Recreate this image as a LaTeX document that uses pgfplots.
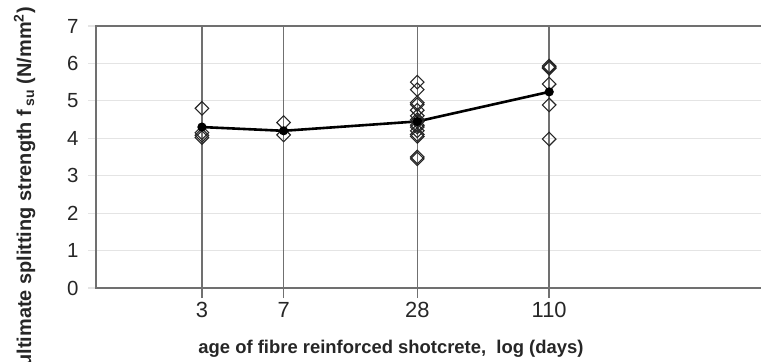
\documentclass[border=0pt]{standalone}
\usepackage{pgfplots}
\pgfplotsset{compat=1.18}
\usepackage{fontspec}
\setmainfont{Liberation Sans}
\definecolor{frame}{HTML}{707070}
\definecolor{gridc}{HTML}{E4E4E4}
\definecolor{txt}{HTML}{262626}
\begin{document}
\begin{tikzpicture}[x=1bp,y=1bp]
\useasboundingbox (0,0) rectangle (761,361);
\clip (0,0) rectangle (761,361);
\begin{axis}[
  at={(96bp,73bp)}, anchor=south west,
  scale only axis, width=666bp, height=262bp,
  xmode=log, xmin=1, xmax=1000,
  ymin=0, ymax=7, ytick={0,1,2,3,4,5,6,7},
  xtick=\empty, xminorticks=false,
  extra x ticks={3,7,28,110},
  extra x tick labels={3,7,28,110},
  extra x tick style={grid=major, major grid style={frame, line width=1.4bp}, tick style={frame, line width=1.4bp}, major tick length=10bp},
  ymajorgrids, major y grid style={gridc, line width=1.2bp},
  tick style={gridc, line width=1.2bp}, major tick length=8bp, tick align=outside,
  tick pos=left,
  axis line style={frame, line width=1.4bp},
  /pgf/number format/assume math mode=true,
  yticklabel style={font=\fontsize{20.5}{22}\selectfont, text=txt, xshift=-6bp},
  xticklabel style={font=\fontsize{22}{24}\selectfont, text=txt, yshift=-1bp},
]
\addplot[only marks, mark=square, mark size=4.8bp, mark options={rotate=45, line width=1.1bp, draw=txt}] coordinates {
 (3,4.8) (3,4.15) (3,4.08) (3,4.02)
 (7,4.42) (7,4.09)
 (28,5.5) (28,5.3) (28,4.95) (28,4.9) (28,4.75) (28,4.6) (28,4.5) (28,4.45) (28,4.35) (28,4.3) (28,4.2) (28,4.1) (28,4.05) (28,3.5) (28,3.45)
 (110,5.93) (110,5.9) (110,5.87) (110,5.45) (110,4.89) (110,3.98)
};
\addplot[black, line width=2.6bp, mark=*, mark size=3.2bp] coordinates {(3,4.3) (7,4.2) (28,4.45) (110,5.24)};
\end{axis}
\node[font=\bfseries\fontsize{18.5}{20}\selectfont, text=txt, anchor=base] at (391,8) {age of fibre reinforced shotcrete,\ \ log (days)};
\node[font=\bfseries\fontsize{20}{22}\selectfont, text=txt, rotate=90, anchor=base east, inner sep=0pt] at (31,354) {ultimate splitting strength f\,\textsubscript{su} (N/mm\textsuperscript{2})};
\end{tikzpicture}
\end{document}
